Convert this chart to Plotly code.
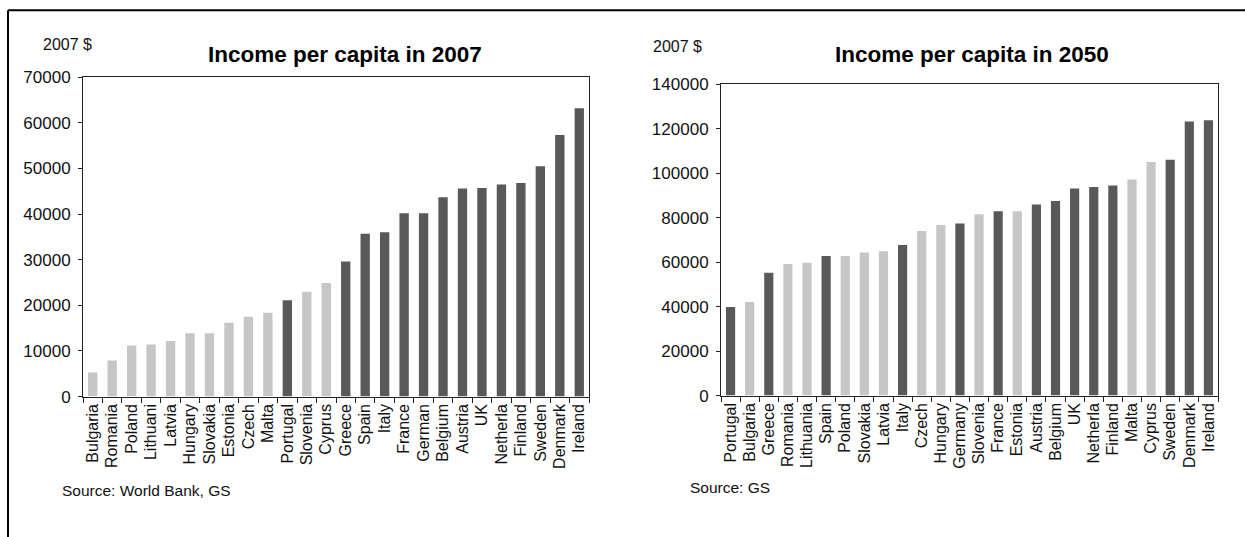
import plotly.graph_objects as go

# 2007 income per capita (2007 $), World Bank / GS
countries_2007 = ["Bulgaria", "Romania", "Poland", "Lithuani", "Latvia", "Hungary", "Slovakia",
                  "Estonia", "Czech", "Malta", "Portugal", "Slovenia", "Cyprus", "Greece",
                  "Spain", "Italy", "France", "German", "Belgium", "Austria", "UK",
                  "Netherla", "Finland", "Sweden", "Denmark", "Ireland"]
income_2007 = [5300, 7900, 11200, 11400, 12200, 13900, 13900, 16200, 17500, 18400,
               21100, 23000, 24900, 29600, 35700, 36000, 40200, 40200, 43700, 45600,
               45700, 46500, 46800, 50500, 57300, 63200]
euro_2007 = [False, False, False, False, False, False, False, False, False, False,
             True, False, False, True, True, True, True, True, True, True, True,
             True, True, True, True, True]

# 2050 projected income per capita (2007 $), GS
countries_2050 = ["Portugal", "Bulgaria", "Greece", "Romania", "Lithuania", "Spain", "Poland",
                  "Slovakia", "Latvia", "Italy", "Czech", "Hungary", "Germany", "Slovenia",
                  "France", "Estonia", "Austria", "Belgium", "UK", "Netherla", "Finland",
                  "Malta", "Cyprus", "Sweden", "Denmark", "Ireland"]
income_2050 = [39800, 42100, 55200, 59100, 59700, 62700, 62700, 64300, 64900, 67700,
               74000, 76700, 77300, 81500, 82900, 82900, 85900, 87500, 93100, 93800,
               94400, 97100, 105000, 106000, 123200, 123800]
euro_2050 = [True, False, True, False, False, True, False, False, False, True,
             False, False, True, False, True, False, True, True, True, True, True,
             False, False, True, True, True]

DARK = "#595959"
LIGHT = "#c6c6c6"
FONT = "Liberation Sans"

# page layout: 8px body margin on top, and the page is shown vertically squeezed
TOP = 8
SQUEEZE = 0.967
W, H = 1245, 548


def px_x(x):
    return x / W


def px_y(y):
    return 1 - (y / SQUEEZE - TOP) / H


fig = go.Figure()
fig.add_trace(go.Bar(x=countries_2007, y=income_2007,
                     marker=dict(color=[DARK if e else LIGHT for e in euro_2007], line_width=0),
                     xaxis="x", yaxis="y", showlegend=False))
fig.add_trace(go.Bar(x=countries_2050, y=income_2050,
                     marker=dict(color=[DARK if e else LIGHT for e in euro_2050], line_width=0),
                     xaxis="x2", yaxis="y2", showlegend=False))

xcommon = dict(type="category", showline=True, linecolor="#222", linewidth=1, mirror=True,
               ticks="outside", tickson="boundaries", ticklen=5, tickcolor="#222",
               tickangle=-90, showgrid=False, zeroline=False,
               tickfont=dict(family=FONT, size=16, color="#111"))
ycommon = dict(showline=True, linecolor="#222", linewidth=1, mirror=True,
               ticks="outside", ticklen=4, tickcolor="#222", showgrid=False,
               zeroline=False, tickformat="d", ticklabelstandoff=4,
               tickfont=dict(family=FONT, size=17, color="#111"))

fig.update_layout(
    width=W, height=H,
    margin=dict(l=0, r=0, t=0, b=0),
    paper_bgcolor="white", plot_bgcolor="white",
    bargap=0.52,
    xaxis=dict(domain=[px_x(83), px_x(589)], anchor="y", **xcommon),
    yaxis=dict(domain=[px_y(396), px_y(76)], anchor="x", range=[0, 70000],
               dtick=10000, **ycommon),
    xaxis2=dict(domain=[px_x(721), px_x(1218)], anchor="y2", **xcommon),
    yaxis2=dict(domain=[px_y(395), px_y(83)], anchor="x2", range=[0, 140000],
                dtick=20000, **ycommon),
)

titles = [
    ("<b>Income per capita in 2007</b>", 345, 53),
    ("<b>Income per capita in 2050</b>", 972, 53),
]
for text, x, y in titles:
    fig.add_annotation(text=text, x=px_x(x), y=px_y(y), xref="paper", yref="paper",
                       xanchor="center", yanchor="middle", showarrow=False,
                       font=dict(family=FONT, size=22.5, color="#000"))

side_labels = [
    ("2007 $", 41, 43, 16),
    ("2007 $", 651, 45, 16),
    ("Source: World Bank, GS", 60, 490, 15.5),
    ("Source: GS", 688, 487, 15.5),
]
for text, x, y, size in side_labels:
    fig.add_annotation(text=text, x=px_x(x), y=px_y(y), xref="paper", yref="paper",
                       xanchor="left", yanchor="middle", showarrow=False,
                       font=dict(family=FONT, size=size, color="#111"))

# outer frame: top and left edges
fig.add_shape(type="line", xref="paper", yref="paper", x0=px_x(8), y0=0, x1=px_x(8), y1=px_y(9),
              line=dict(color="#000", width=2))
fig.add_shape(type="line", xref="paper", yref="paper", x0=px_x(8), y0=px_y(9), x1=1, y1=px_y(9),
              line=dict(color="#000", width=2))

fig.write_html("out.html")
